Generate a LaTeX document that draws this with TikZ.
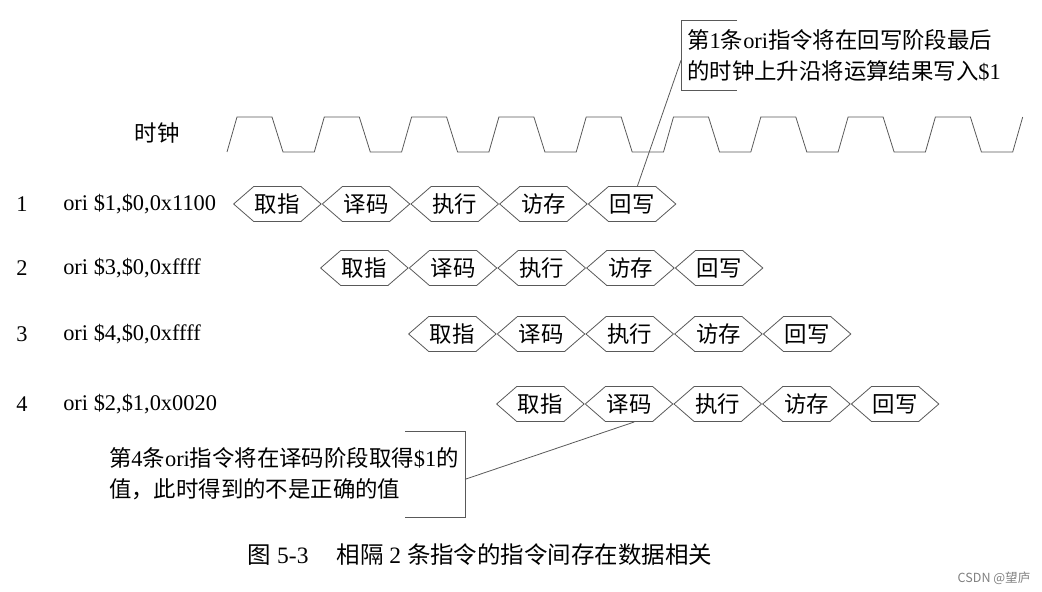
\documentclass[tikz,border=0pt]{standalone}
\usepackage{fontspec}
\setmainfont{Liberation Serif}
\newfontfamily\cjk{Noto Sans CJK SC}
\usepackage{tikz}
\usetikzlibrary{positioning,shapes.symbols}

\begin{document}
\begin{tikzpicture}[x=0.75pt, y=-0.75pt,
  stage/.style={signal, signal to=east and west, signal pointer angle=82,
                draw=black!65, line width=0.6pt, minimum width=65.6pt,
                minimum height=26.3pt, inner sep=0pt,
                font=\cjk\fontsize{16.8}{20}\selectfont},
  instr/.style={anchor=west, inner sep=0pt, font=\fontsize{16.8}{20}\selectfont},
  num/.style={inner sep=0pt, font=\fontsize{16.8}{20}\selectfont},
  note/.style={align=left, inner sep=4.5pt, font=\fontsize{16.8}{23.3}\selectfont},
  wire/.style={draw=black!65, line width=0.6pt},
]
\useasboundingbox (0,0) rectangle (1042,592);
% Clock
\node[font=\cjk\fontsize{16.8}{20}\selectfont] (clk) at (157,133) {时钟};
\draw[wire] (227,152) foreach \i in {1,...,9} {
  -- ++(10,-35) -- ++(35,0) -- ++(11,35) -- ++(31.3,0) } -- ++(10,-35);
% Pipeline stages
\foreach \row/\x/\y in {1/233/204, 2/320/268, 3/408/334, 4/496/404} {
  \node[stage, anchor=west] (s\row1) at (\x,\y) {取指};
  \node[stage, right=0pt of s\row1] (s\row2) {译码};
  \node[stage, right=0pt of s\row2] (s\row3) {执行};
  \node[stage, right=0pt of s\row3] (s\row4) {访存};
  \node[stage, right=0pt of s\row4] (s\row5) {回写};
}
% Instructions
\node[num]   (n1) at (22,204) {1};
\node[instr] (i1) at (63,204) {ori \$1,\$0,0x1100};
\node[num]   (n2) at (22,268) {2};
\node[instr] (i2) at (63,268) {ori \$3,\$0,0xffff};
\node[num]   (n3) at (22,334) {3};
\node[instr] (i3) at (63,334) {ori \$4,\$0,0xffff};
\node[num]   (n4) at (22,404) {4};
\node[instr] (i4) at (63,404) {ori \$2,\$1,0x0020};
% Notes
\node[note, anchor=west, minimum height=52pt] (note1) at (681,55)
  {{\cjk 第}1{\cjk 条}ori{\cjk 指令将在回写阶段最后}\\{\cjk 的时钟上升沿将运算结果写入}\$1};
\draw[wire] (note1.north west) ++(56,0) -- (note1.north west) -- (note1.south west) -- ++(56,0);
\draw[wire] ([yshift=-4pt]note1.west) -- ([xshift=4pt]s15.north);
\node[note, anchor=east, minimum height=64pt] (note2) at (465,474)
  {{\cjk 第}4{\cjk 条}ori{\cjk 指令将在译码阶段取得}\$1{\cjk 的}\\{\cjk 值，此时得到的不是正确的值}};
\draw[wire] (note2.north east) ++(-60,0) -- (note2.north east) -- (note2.south east) -- ++(-60,0);
\draw[wire] ([yshift=-4pt]note2.east) -- ([xshift=4pt]s42.south);
% Caption
\node[font=\fontsize{17.6}{20}\selectfont] (cap) at (480,555)
  {{\cjk 图} 5-3\hspace{1.2em}{\cjk 相隔} 2 {\cjk 条指令的指令间存在数据相关}};
\node[font=\cjk\fontsize{9.4}{11}\selectfont, text=black!50] (mark) at (994,578) {CSDN @望庐};
\end{tikzpicture}
\end{document}
